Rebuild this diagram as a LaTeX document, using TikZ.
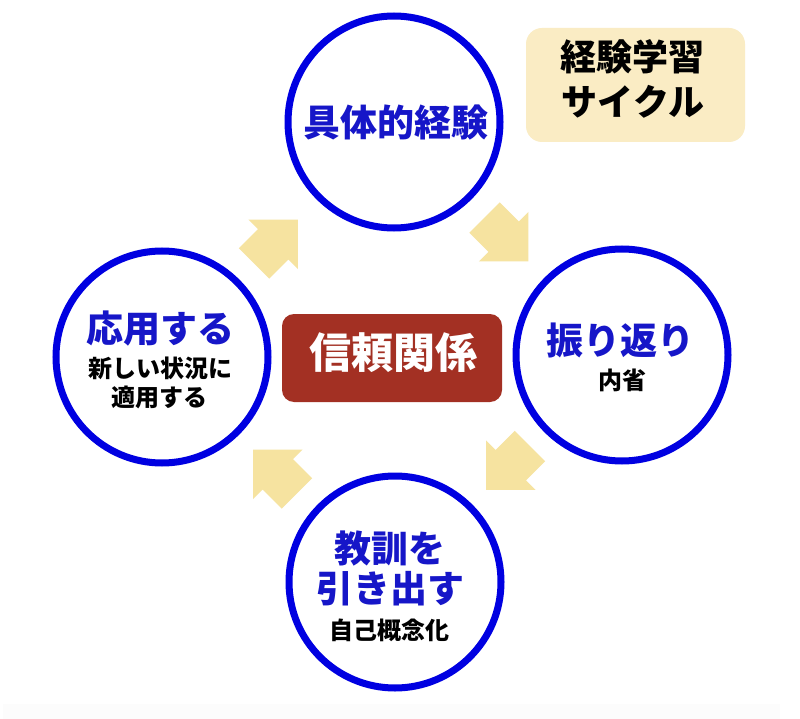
\documentclass[tikz,border=0pt]{standalone}
\usepackage{fontspec}
\newfontfamily\jp{Noto Sans CJK JP}
\definecolor{ringblue}{RGB}{0,0,225}
\definecolor{txtblue}{RGB}{22,22,200}
\definecolor{arrowyel}{RGB}{246,227,160}
\definecolor{trustred}{RGB}{163,48,35}
\definecolor{titlefill}{RGB}{250,236,196}
\definecolor{stripgray}{RGB}{252,252,252}
\newcommand\yelarrow[2]{\fill[arrowyel,shift={#1},rotate=#2] (-31,-21.5) -- (-4,-21.5) -- (-4,-35) -- (31,0) -- (-4,35) -- (-4,21.5) -- (-31,21.5) -- cycle;}
\begin{document}
\begin{tikzpicture}[x=1pt,y=-1pt,
  ring/.style={circle,draw=ringblue,line width=7pt,minimum size=212pt,inner sep=0pt,fill=white},
  mainlbl/.style={inner sep=0pt,text=txtblue,font=\jp\bfseries\fontsize{37}{40}\selectfont,text height=32.6pt,text depth=4.4pt},
  sublbl/.style={inner sep=0pt,text=black,font=\jp\bfseries\fontsize{24}{28}\selectfont,text height=21.1pt,text depth=2.9pt},
  titlelbl/.style={inner sep=0pt,text=black,font=\jp\bfseries\fontsize{36}{40}\selectfont,text height=31.7pt,text depth=4.3pt},
  trustlbl/.style={inner sep=0pt,text=white,font=\jp\bfseries\fontsize{42}{46}\selectfont,text height=37pt,text depth=5pt},
  trustbox/.style={rectangle,rounded corners=12pt,fill=trustred,minimum width=220pt,minimum height=88pt,inner sep=0pt},
  titlebox/.style={rectangle,rounded corners=16pt,fill=titlefill,minimum width=219pt,minimum height=114pt,inner sep=0pt}
]
\useasboundingbox (0,0) rectangle (800,719);
\fill[white] (0,0) rectangle (800,719);
\fill[stripgray] (3,704) rectangle (780,719);

% arrows
\yelarrow{(276,241.5)}{45}
\yelarrow{(506.5,239.5)}{-45}
\yelarrow{(508,468)}{-135}
\yelarrow{(275,471.5)}{135}

% circles
\node[ring] (top) at (394,122) {};
\node[ring] (right) at (622,355) {};
\node[ring] (bottom) at (395,582) {};
\node[ring] (left) at (162,357) {};

% center box
\node[trustbox] (trust) at (392,358) {};
\node[trustlbl] (trusttext) at (393,352) {信頼関係};

% title box
\node[titlebox] (title) at (635.5,85) {};
\node[titlelbl] (title1) at (632,57) {経験学習};
\node[titlelbl] (title2) at (633,102) {サイクル};

% labels
\node[mainlbl] (toptext) at (395.5,122) {具体的経験};

\node[mainlbl] (righttext) at (620,340) {振り返り};
\node[sublbl] (rightsub) at (622,380) {内省};

\node[mainlbl] (lefttext) at (160,328) {応用する};
\node[sublbl] (leftsub1) at (160,368) {新しい状況に};
\node[sublbl] (leftsub2) at (159,397) {適用する};

\node[mainlbl] (bottext1) at (390,548) {教訓を};
\node[mainlbl] (bottext2) at (390,588) {引き出す};
\node[sublbl] (botsub) at (389,630) {自己概念化};
\end{tikzpicture}
\end{document}
